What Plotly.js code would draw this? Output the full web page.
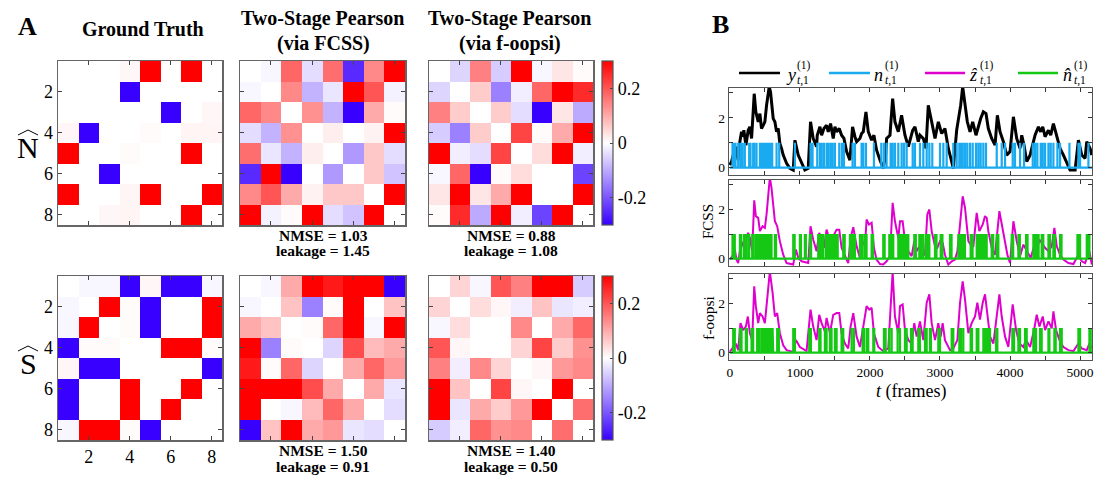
<!DOCTYPE html>
<html><head><meta charset="utf-8">
<script src="https://cdn.plot.ly/plotly-3.0.1.min.js"></script>
<style>html,body{margin:0;padding:0;background:#fff;}#chart{width:1109px;height:478px;}</style>
</head><body><div id="chart"></div>
<script>
// ---------- DATA ----------
const cells = [1,2,3,4,5,6,7,8];
const heatTicks = [2,4,6,8];
const heatTickText = ['2','4','6','8'];
const colorTicks = [-0.2,0,0.2];
const colorTickText = ['-0.2','0','0.2'];

const gtN = [
[0,0,0,0.01,0.3,0,0.3,0],
[0,0,0,-0.3,0,0,0,0],
[0,0,0,0,0,-0.3,0,0.01],
[0.01,-0.3,0,0,0.005,0,0.012,0.012],
[0.3,0,0,0.005,0,0,0.3,0],
[0,0,-0.3,0,0,0,0,0],
[0.3,0,0,0.012,0.3,0,0,0.3],
[0,0,0.01,0.012,0,0,0.3,0]];

const fcssN = [
[0,-0.01,0.18,-0.04,0.17,-0.25,0.14,0.3],
[-0.01,0,0.14,-0.09,-0.03,0.3,0.2,-0.015],
[0.18,0.14,0,0.13,-0.09,-0.3,0.1,0.005],
[-0.04,-0.09,0.13,0,0.02,0,0.015,0.3],
[0.17,-0.03,-0.09,0.02,0,-0.12,0.065,-0.04],
[-0.25,0.3,-0.3,0,-0.12,0,0.065,-0.07],
[0.14,0.2,0.1,0.015,0.065,0.065,0,0.3],
[0.3,-0.015,0.005,0.3,-0.04,-0.07,0.3,0]];

const oopsiN = [
[0,-0.05,0.15,-0.06,0.3,-0.01,0.03,0.005],
[-0.05,0,0.06,-0.15,-0.02,0.18,0.3,0.25],
[0.15,0.06,0,0.06,-0.04,-0.3,0.03,-0.1],
[-0.06,-0.15,0.06,0,0.22,0.005,0.1,0.3],
[0.3,-0.02,-0.04,0.22,0,0.04,0.3,-0.02],
[-0.01,0.18,-0.3,0.005,0.04,0,0,-0.22],
[0.03,0.3,0.03,0.1,0.3,0,0,0.3],
[0.005,0.25,-0.1,0.3,-0.02,-0.22,0.3,0]];

const gtS = [
[0,-0.01,-0.01,-0.3,0.01,-0.3,-0.3,-0.01],
[-0.01,0,0.3,0.005,-0.3,0,0,0.3],
[-0.01,0.3,0,0.005,-0.3,0,0,0.3],
[-0.3,0.005,0.005,0,0,0.3,0.3,0.005],
[0.01,-0.3,-0.3,0,0,0,0,-0.3],
[-0.3,0,0,0.3,0,0,0.3,0],
[-0.3,0,0,0.3,0,0.3,0,0],
[-0.01,0.3,0.3,0.005,-0.3,0,0,0]];

const fcssS = [
[0,-0.01,0.1,0.3,0.27,0.3,0.3,-0.3],
[-0.01,0,0.07,-0.15,0.005,0.3,0,0.07],
[0.1,0.07,0,0.005,0.18,0.3,-0.01,0.3],
[0.3,-0.15,0.005,0,-0.05,0.21,0.08,0.1],
[0.27,0.005,0.18,-0.05,0,0.1,0.18,0.12],
[0.3,0.3,0.3,0.21,0.1,0,0.1,-0.03],
[0.3,0,-0.01,0.08,0.18,0.1,0,-0.04],
[-0.3,0.07,0.3,0.1,0.12,-0.03,-0.04,0]];

const oopsiS = [
[0,0.05,-0.01,0.2,0.15,0.3,0.3,-0.06],
[0.05,0,0.04,0.01,-0.02,0.07,-0.03,-0.02],
[-0.01,0.04,0,0,0.14,0,0.1,0.18],
[0.2,0.01,0,0,0.05,0.22,0.06,0.13],
[0.15,-0.02,0.14,0.05,0,0.01,0.12,0.14],
[0.3,0.07,0,0.22,0.01,0,0.3,0],
[0.3,-0.03,0.1,0.06,0.12,0.3,0,0.17],
[-0.06,-0.02,0.18,0.13,0.14,0,0.17,0]];

const nmseText = ['NMSE = 1.03','NMSE = 0.88','NMSE = 1.50','NMSE = 1.40'];
const leakText = ['leakage = 1.45','leakage = 1.08','leakage = 0.91','leakage = 0.50'];

// fluorescence trace y (frame, value)
const fluorY = [[0,0.1],[24,0.24],[48,0.5],[86,0.84],[105,0.5],[119,0.3],[143,1.04],[167,1.44],[181,1.24],[200,1.5],[229,0.9],[262,1.5],[286,1.64],[310,1.17],[333,2.24],[348,2.97],[371,2.24],[405,1.84],[429,2.17],[452,1.57],[476,1.7],[500,1.84],[524,2.5],[562,3.25],[581,3.04],[605,2.37],[619,1.97],[643,1.84],[667,1.44],[690,1.57],[714,0.97],[738,0.77],[762,0.5],[810,0.17],[857,-0.03],[905,-0.1],[929,1.1],[976,0.5],[1024,0.17],[1071,-0.1],[1119,-0.03],[1152,1.84],[1190,1.17],[1238,0.84],[1248,1.3],[1286,1.64],[1310,1.3],[1343,1.57],[1381,1.7],[1405,1.44],[1438,1.77],[1476,1.17],[1500,1.64],[1524,1.44],[1562,1.57],[1595,1.3],[1629,1.17],[1667,0.64],[1714,0.3],[1752,1.64],[1786,1.24],[1810,1.04],[1857,1.17],[1881,1.37],[1905,1.44],[1943,2.24],[1976,1.44],[2024,1.1],[2057,1.3],[2095,0.7],[2143,0.3],[2190,-0.03],[2224,0.5],[2238,1.17],[2286,1.3],[2324,2.77],[2357,1.84],[2405,1.44],[2452,2.1],[2500,1.3],[2548,0.84],[2610,1.5],[2643,1.64],[2690,1.04],[2714,1.3],[2762,1.17],[2800,0.77],[2833,2.5],[2881,1.84],[2929,1.17],[2976,1.84],[3024,1.37],[3071,1.57],[3119,0.77],[3167,0.24],[3190,-0.03],[3238,1.5],[3276,2.1],[3295,2.5],[3324,3.25],[3357,2.5],[3390,1.84],[3429,1.44],[3467,1.84],[3514,1.3],[3548,1.7],[3581,1.97],[3619,2.24],[3657,2.17],[3690,1.57],[3738,1.17],[3786,0.9],[3819,2.1],[3857,1.44],[3905,1.04],[3952,0.5],[4000,0.64],[4048,2.04],[4095,1.17],[4143,0.77],[4167,1.3],[4200,0.9],[4238,0.24],[4286,0.5],[4324,0.9],[4357,1.3],[4405,1.64],[4438,1.44],[4467,1.64],[4500,1.24],[4548,1.5],[4581,1.3],[4619,1.77],[4667,1.3],[4714,0.77],[4762,0.5],[4833,0.04],[4857,-0.1],[4929,-0.1],[4976,1.1],[5024,0.5],[5071,0.37],[5095,1.04],[5143,0.77],[5167,0.5]];

// true spike times n (frames)
const spikesTrue = [38,55,81,119,152,181,214,276,295,333,348,381,429,445,467,485,500,515,533,548,562,581,605,667,705,929,1152,1181,1248,1286,1310,1343,1381,1405,1438,1467,1500,1562,1600,1629,1752,1786,1881,1905,1943,2057,2162,2200,2238,2295,2324,2357,2405,2452,2486,2524,2610,2643,2714,2762,2810,2848,2890,3000,3048,3095,3190,3238,3276,3295,3324,3357,3390,3429,3467,3514,3548,3581,3619,3657,3810,3881,3929,4038,4071,4143,4200,4324,4357,4390,4438,4467,4500,4548,4581,4619,4676,4714,4848,4976,5000,5119];

// estimated calcium z (FCSS)
const calciumFCSS = [[0,-0.04],[48,0.16],[71,0.37],[95,-0.04],[119,-0.18],[143,0.3],[167,0.5],[200,0.71],[229,0.78],[262,1.05],[286,0.84],[319,0.3],[348,2.37],[371,1.73],[405,1.66],[429,1.12],[467,1.32],[500,1.25],[524,1.8],[571,3.3],[595,2.88],[619,2.07],[643,1.52],[676,1.32],[714,0.71],[762,0.16],[810,-0.18],[905,-0.24],[943,0.37],[976,0.03],[1024,-0.11],[1119,-0.18],[1152,1.32],[1190,0.78],[1238,0.3],[1276,1.05],[1310,0.84],[1343,0.44],[1381,1.18],[1429,0.71],[1476,0.91],[1524,1.18],[1562,1.18],[1595,0.44],[1643,0.16],[1690,-0.18],[1724,0.84],[1762,1.28],[1810,0.5],[1857,0.03],[1895,0.71],[1929,0.5],[1952,1.59],[1986,1.39],[2024,1.46],[2057,0.44],[2095,-0.04],[2143,-0.22],[2190,-0.24],[2238,-0.11],[2286,0.1],[2324,2.27],[2357,1.52],[2405,0.84],[2429,1.52],[2467,1.52],[2500,0.71],[2548,0.3],[2595,0.1],[2633,0.71],[2667,0.3],[2705,0.5],[2738,0.16],[2786,0.16],[2819,1.8],[2848,2.0],[2881,1.12],[2929,0.5],[2962,0.44],[3000,0.71],[3038,0.64],[3071,0.16],[3119,-0.24],[3167,-0.11],[3214,-0.04],[3248,0.3],[3286,1.39],[3324,2.54],[3357,2.07],[3405,0.71],[3452,0.5],[3476,0.5],[3524,1.86],[3562,1.12],[3610,1.39],[3643,1.73],[3667,1.66],[3690,1.12],[3738,0.44],[3786,0.16],[3848,1.93],[3881,1.39],[3929,0.71],[3962,0.16],[4000,-0.18],[4048,1.52],[4095,0.71],[4143,0.1],[4190,0.57],[4238,0.3],[4295,0.03],[4343,0.5],[4381,0.3],[4419,0.78],[4467,0.57],[4500,0.44],[4548,0.3],[4595,0.5],[4633,1.25],[4667,0.5],[4714,0.16],[4762,-0.04],[4833,-0.18],[4905,-0.22],[4976,0.16],[5024,-0.11],[5071,-0.18],[5133,0.3],[5167,-0.24]];

// estimated spikes n-hat (FCSS)
const spikesFCSS = [38,55,71,143,160,200,215,229,262,276,319,338,371,390,405,429,445,460,475,490,505,520,535,550,565,580,595,643,660,905,925,1000,1015,1071,1085,1143,1160,1262,1280,1300,1320,1333,1371,1390,1405,1429,1450,1470,1500,1520,1540,1619,1640,1714,1735,1760,1786,1857,1880,1895,1929,1952,2024,2045,2190,2210,2276,2295,2315,2333,2405,2430,2452,2476,2500,2525,2548,2633,2655,2705,2730,2762,2800,2825,2848,2929,2950,3010,3035,3143,3165,3262,3285,3305,3330,3357,3438,3465,3524,3548,3571,3595,3620,3645,3667,3738,3760,3810,3833,4024,4045,4119,4140,4229,4250,4333,4355,4381,4408,4452,4475,4548,4570,4619,4640,4714,4735,4962,4980,5000,5095,5115,5133];

// estimated calcium z (f-oopsi)
const calciumOopsi = [[0,0.03],[48,0.23],[86,0.37],[119,0.1],[152,1.2],[190,0.92],[229,1.06],[257,1.47],[286,0.79],[319,0.51],[348,2.7],[371,1.89],[405,1.2],[429,1.61],[467,1.47],[500,1.2],[524,2.03],[571,3.3],[610,2.44],[643,1.47],[676,1.61],[714,0.79],[762,0.3],[810,0.1],[905,0.03],[943,0.51],[1000,0.23],[1095,0.06],[1152,1.75],[1190,1.06],[1238,0.51],[1276,1.54],[1310,1.2],[1357,0.86],[1381,1.41],[1429,0.79],[1476,1.54],[1524,1.61],[1562,1.61],[1595,0.79],[1643,0.37],[1690,0.17],[1724,1.06],[1762,1.61],[1810,0.65],[1857,0.23],[1905,1.06],[1952,1.89],[1990,1.75],[2024,1.82],[2057,0.79],[2119,0.23],[2190,0.06],[2262,0.17],[2324,3.3],[2357,1.47],[2405,0.79],[2429,1.89],[2467,1.96],[2500,0.92],[2548,0.51],[2595,0.37],[2633,1.2],[2667,0.65],[2714,1.27],[2762,0.51],[2810,2.03],[2848,2.37],[2881,1.2],[2929,0.51],[2976,1.2],[3010,0.65],[3038,1.2],[3071,0.51],[3143,0.1],[3190,0.17],[3248,0.51],[3286,2.03],[3324,2.9],[3357,2.17],[3405,0.79],[3452,1.2],[3500,1.47],[3533,2.03],[3571,1.34],[3610,2.03],[3643,2.37],[3667,1.75],[3714,0.65],[3762,0.37],[3848,2.37],[3881,1.47],[3929,0.65],[3976,0.23],[4038,1.96],[4086,0.92],[4133,0.37],[4190,0.23],[4229,0.51],[4286,0.23],[4343,0.92],[4381,1.54],[4419,1.06],[4467,1.47],[4500,0.92],[4548,1.27],[4595,0.99],[4619,1.68],[4657,0.92],[4714,0.44],[4762,0.23],[4833,0.1],[4905,0.06],[4976,0.37],[5024,0.17],[5095,0.1],[5133,0.37],[5167,0.17]];

// estimated spikes n-hat (f-oopsi)
const spikesOopsi = [48,71,143,167,229,245,310,333,390,419,452,467,485,500,515,533,550,565,580,595,610,619,676,700,905,929,1133,1157,1276,1295,1357,1381,1429,1452,1500,1524,1595,1619,1738,1771,1895,1914,1952,1976,2048,2062,2200,2224,2276,2310,2395,2429,2500,2524,2586,2610,2690,2714,2786,2810,2857,2871,2976,3000,3167,3190,3276,3300,3333,3438,3457,3524,3548,3619,3640,3667,3690,3714,3800,3819,4033,4057,4119,4143,4214,4238,4333,4352,4371,4429,4452,4548,4562,4633,4652,4714,4738,4976,5000,5133,5152];

const timeTicks = [0,500,1000,1500,2000,2500,3000,3500,4000,4500,5000];
const timeTickText = ['0','','1000','','2000','','3000','','4000','','5000'];
const valTicks = [0,1,2,3];
const valTickText = ['0','','2',''];
const tEnd = 5170;

// ---------- RENDER ----------
const W = 1109, H = 478;
const FONT = 'Liberation Serif, "Times New Roman", Times, serif';
const px = x => x / W;
const py = y => 1 - y / H;
const COL = {y:'#000000', n:'rgb(25,170,240)', z:'rgb(222,0,205)', nh:'rgb(20,200,20)'};
const cscale = [[0,'rgb(55,0,255)'],[0.5,'rgb(255,255,255)'],[1,'rgb(255,0,0)']];

const heatSets = [gtN, fcssN, oopsiN, gtS, fcssS, oopsiS];
const heatBoxes = [[58,222,61,225],[240,405,61,225],[429,593,61,225],[58,222,276,440],[240,405,276,440],[429,593,276,440]];

const data = [];
const layout = {width:W, height:H, margin:{l:0,r:0,t:0,b:0}, paper_bgcolor:'#fff', plot_bgcolor:'#fff',
  showlegend:false, font:{family:FONT, color:'#000'}, annotations:[], shapes:[]};

heatSets.forEach((z, i) => {
  const s = i === 0 ? '' : String(i + 1);
  const b = heatBoxes[i];
  const tr = {type:'heatmap', z:z, x:cells, y:cells, xaxis:'x'+s, yaxis:'y'+s,
    colorscale:cscale, zmin:-0.3, zmax:0.3, showscale:(i===2||i===5), hoverinfo:'skip'};
  if (tr.showscale) {
    tr.colorbar = {x:px(602), xanchor:'left', y:py((b[2]+b[3])/2), yanchor:'middle',
      len:b[3]-b[2], lenmode:'pixels', thickness:11, thicknessmode:'pixels', xpad:0, ypad:0,
      outlinewidth:1.2, outlinecolor:'#555', tickvals:colorTicks, ticktext:colorTickText,
      ticks:'inside', ticklen:3, tickcolor:'#444', tickfont:{family:FONT, size:18, color:'#000'}};
  }
  data.push(tr);
  const common = {tickvals:heatTicks, ticktext:heatTickText, ticks:'inside', ticklen:4, tickwidth:1,
    tickcolor:'#444', showline:true, mirror:'ticks', linecolor:'#666', linewidth:1.5,
    showgrid:false, zeroline:false, fixedrange:true, tickfont:{family:FONT, size:18, color:'#000'}};
  layout['xaxis'+s] = Object.assign({}, common, {domain:[px(b[0]), px(b[1])], anchor:'y'+s,
    range:[0.5,8.5], showticklabels:(i===3)});
  layout['yaxis'+s] = Object.assign({}, common, {domain:[py(b[3]), py(b[2])], anchor:'x'+s,
    range:[8.5,0.5], showticklabels:(i===0||i===3)});
});

function spikePath(times){
  const x=[0], y=[0];
  times.forEach(t => { x.push(t,t,t); y.push(0,1,0); });
  x.push(tEnd); y.push(0);
  return {x, y};
}
function lineTrace(pairs, ax, color, w){
  return {type:'scatter', mode:'lines', x:pairs.map(p=>p[0]), y:pairs.map(p=>p[1]),
    xaxis:'x'+ax, yaxis:'y'+ax, line:{color:color, width:w}, hoverinfo:'skip'};
}
function spikeTrace(times, ax, color){
  const p = spikePath(times);
  return {type:'scatter', mode:'lines', x:p.x, y:p.y, xaxis:'x'+ax, yaxis:'y'+ax,
    line:{color:color, width:2.2}, hoverinfo:'skip'};
}
data.push(lineTrace(fluorY, 7, COL.y, 3));
data.push(spikeTrace(spikesTrue, 7, COL.n));
data.push(lineTrace(calciumFCSS, 8, COL.z, 2));
data.push(spikeTrace(spikesFCSS, 8, COL.nh));
data.push(lineTrace(calciumOopsi, 9, COL.z, 2));
data.push(spikeTrace(spikesOopsi, 9, COL.nh));

const tsBoxes = [[88,175],[180,266],[274,360]];
tsBoxes.forEach((b, k) => {
  const s = String(7 + k);
  const common = {ticks:'inside', ticklen:4, tickwidth:1, tickcolor:'#333', showline:true, mirror:'ticks',
    linecolor:'#555', linewidth:1.2, showgrid:false, zeroline:false, fixedrange:true,
    tickfont:{family:FONT, size:13.5, color:'#000'}};
  layout['xaxis'+s] = Object.assign({}, common, {domain:[px(729), px(1092)], anchor:'y'+s,
    range:[-12, tEnd], tickvals:timeTicks, ticktext:timeTickText, showticklabels:(k===2)});
  layout['yaxis'+s] = Object.assign({}, common, {domain:[py(b[1]), py(b[0])], anchor:'x'+s,
    range:[-0.3, 3.2], tickvals:valTicks, ticktext:valTickText, showticklabels:true});
});

function A(text, x, y, size, extra){
  return Object.assign({xref:'paper', yref:'paper', x:px(x), y:py(y), text:text, showarrow:false,
    xanchor:'center', yanchor:'middle', font:{family:FONT, size:size, color:'#000'}}, extra||{});
}
const ann = layout.annotations;
ann.push(A('<b>A</b>', 27, 27, 26));
ann.push(A('<b>B</b>', 720, 24, 26));
ann.push(A('<b>Ground Truth</b>', 143, 29, 20));
ann.push(A('<b>Two-Stage Pearson</b>', 323, 18, 20));
ann.push(A('<b>(via FCSS)</b>', 323, 43, 20));
ann.push(A('<b>Two-Stage Pearson</b>', 510, 18, 20));
ann.push(A('<b>(via f-oopsi)</b>', 510, 43, 20));
// row labels with wide hats
const rowLabels = [{t:'N', cy:147}, {t:'S', cy:363}];
rowLabels.forEach(r => {
  ann.push(A(r.t, 28, r.cy, 30));
  const x0 = px(18), xm = px(28), x1 = px(38), yb = py(r.cy - 12), yt = py(r.cy - 17);
  layout.shapes.push({type:'path', xref:'paper', yref:'paper',
    path:'M '+x0+','+yb+' L '+xm+','+yt+' L '+x1+','+yb, line:{color:'#000', width:1}});
});
const statX = [323, 511, 323, 511];
const statY = [235, 235, 450, 450];
nmseText.forEach((t, i) => {
  ann.push(A('<b>'+t+'</b>', statX[i], statY[i], 15.5));
  ann.push(A('<b>'+leakText[i]+'</b>', statX[i], statY[i]+16, 15.5));
});
ann.push(A('FCSS', 708, 222, 15, {textangle:-90}));
ann.push(A('f-oopsi', 708, 318, 15.5, {textangle:-90}));
ann.push(A('<i>t</i> (frames)', 911, 391, 18));

// legend (manual, stacked super/subscripts)
const legendItems = [
  {c:COL.y, x0:739, x1:780, base:'<i>y</i>', bx:784},
  {c:COL.n, x0:829, x1:870, base:'<i>n</i>', bx:872},
  {c:COL.z, x0:925, x1:965, base:'<i>\u1E91</i>', bx:967},
  {c:COL.nh, x0:1018, x1:1058, base:'<i>n\u0302</i>', bx:1061}
];
legendItems.forEach(it => {
  layout.shapes.push({type:'line', xref:'paper', yref:'paper', x0:px(it.x0), x1:px(it.x1),
    y0:py(73), y1:py(73), line:{color:it.c, width:2.5}});
  ann.push(A(it.base, it.bx, 75, 18, {xanchor:'left'}));
  ann.push(A('(1)', it.bx+11, 66, 11.5, {xanchor:'left'}));
  ann.push(A('<i>t</i>,1', it.bx+11, 80, 11.5, {xanchor:'left'}));
});

Plotly.newPlot('chart', data, layout, {staticPlot:true, displayModeBar:false});
</script>
</body></html>
